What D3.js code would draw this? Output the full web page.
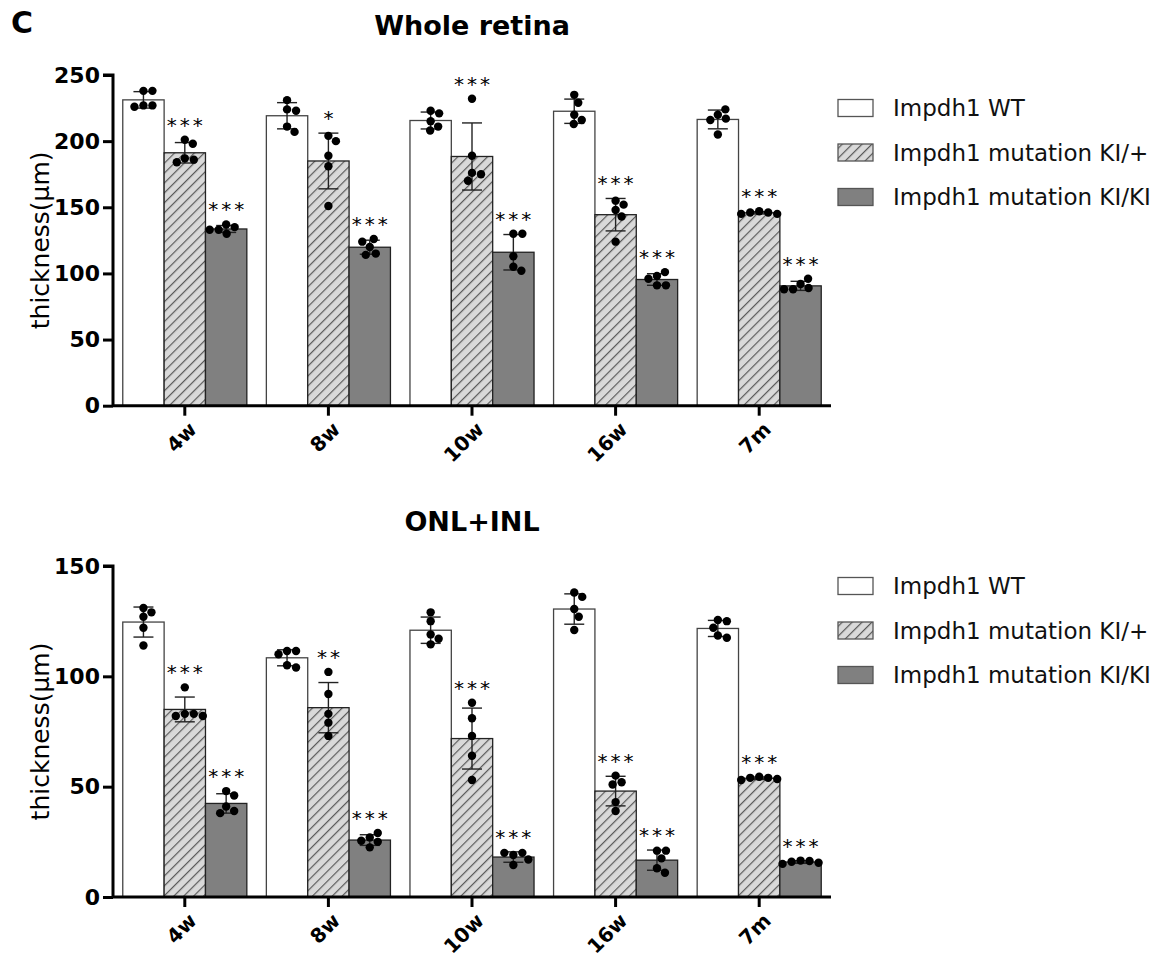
<!DOCTYPE html>
<html>
<head>
<meta charset="utf-8">
<script src="https://cdn.jsdelivr.net/npm/d3@7"></script>
<style>
  body { margin: 0; background: #fff; }
  text { font-family: "DejaVu Sans", sans-serif; }
</style>
</head>
<body>
<svg width="1171" height="961"></svg>
<script>
// categories and series
var groups = ["4w", "8w", "10w", "16w", "7m"];
var seriesNames = ["Impdh1 WT", "Impdh1 mutation KI/+", "Impdh1 mutation KI/KI"];

// Whole retina, individual points (5 per bar)
var retinaWT  = [[227, 238, 227, 238, 226], [231, 224, 223, 211, 207], [215, 223, 221, 211, 208], [235, 229, 220, 216, 213], [220, 224, 217, 216, 205]];
var retinaHet = [[187, 201, 186, 198, 184], [204, 200, 189, 181, 151], [232, 189, 176, 175, 170], [155, 152, 148, 143, 124], [147, 146, 146, 145, 145]];
var retinaHom = [[137, 135, 133, 133, 130], [120, 126, 124, 115, 114], [130, 130, 113, 105, 102], [98, 101, 96, 91, 91], [92, 96, 89, 88, 88]];
var retinaSig = [["", "***", "***"], ["", "*", "***"], ["", "***", "***"], ["", "***", "***"], ["", "***", "***"]];
var retinaTicks = [0, 50, 100, 150, 200, 250];

// ONL+INL
var onlWT  = [[131, 129, 127, 122, 114], [111.5, 111.5, 110, 105, 104], [129, 125, 119, 117, 114.5], [138, 136, 130.5, 127, 121], [125.5, 125, 122, 118.5, 117.5]];
var onlHet = [[95, 83, 83, 82, 82], [102, 92, 83, 79, 73], [88, 81, 73, 64, 53], [55, 52, 51, 43, 39], [54.5, 54, 54, 53.5, 53]];
var onlHom = [[48, 46, 41, 39, 38], [27, 29, 25.5, 25, 22.5], [19, 20, 20, 17, 14.5], [21, 21, 17.5, 13, 11], [16.5, 16.3, 16, 15.5, 15]];
var onlSig = [["", "***", "***"], ["", "**", "***"], ["", "***", "***"], ["", "***", "***"], ["", "***", "***"]];
var onlTicks = [0, 50, 100, 150];

var svg = d3.select("svg");

// hatch pattern for KI/+
var defs = svg.append("defs");
var pat = defs.append("pattern")
  .attr("id", "hatch")
  .attr("patternUnits", "userSpaceOnUse")
  .attr("width", 7).attr("height", 7)
  .attr("patternTransform", "rotate(45)");
pat.append("rect").attr("width", 7).attr("height", 7).attr("fill", "#d9d9d9");
pat.append("line").attr("x1", 0).attr("y1", 0).attr("x2", 0).attr("y2", 7)
  .attr("stroke", "#5a5a5a").attr("stroke-width", 2.4);

var fills = ["#ffffff", "url(#hatch)", "#808080"];
var strokes = ["#444", "#222", "#222"];
var dotR = 4.2;

var xScale = d3.scaleBand().domain(groups).range([113, 831]).paddingInner(0.136).paddingOuter(0.068);
var x1 = d3.scaleBand().domain([0, 1, 2]).range([0, xScale.bandwidth()]);

// panel letter
svg.append("text").attr("x", 11).attr("y", 33)
  .style("font-size", "30px").style("font-weight", "bold").text("C");

// spread dots sideways only when they would overlap
function swarm(vals, y, r) {
  var placed = [];
  return vals.map(function (v) {
    var py = y(v), off = 0;
    for (var dx = 0; dx < 40; dx += 0.5) {
      var cands = dx === 0 ? [0] : [dx, -dx];
      var ok = null;
      cands.forEach(function (c) {
        if (ok !== null) return;
        var hit = placed.some(function (p) {
          return Math.hypot(p[0] - c, p[1] - py) < 2 * r + 0.4;
        });
        if (!hit) ok = c;
      });
      if (ok !== null) { off = ok; break; }
    }
    placed.push([off, py]);
    return [off, v];
  });
}

function drawPanel(cfg) {
  var y = d3.scaleLinear().domain([0, cfg.max]).range([cfg.bottom, cfg.top]);
  var g = svg.append("g");

  // title
  g.append("text").attr("x", 472).attr("y", cfg.titleY)
    .attr("text-anchor", "middle")
    .style("font-size", "27px").style("font-weight", "bold").text(cfg.title);

  // y label
  g.append("text")
    .attr("text-anchor", "middle")
    .attr("transform", "translate(49," + (cfg.top + cfg.bottom) / 2 + ")rotate(-90)")
    .style("font-size", "25px")
    .text("thickness(\u03bcm)");

  var series = cfg.series;
  groups.forEach(function (grp, gi) {
    series.forEach(function (s, si) {
      var pts = s[gi];
      var m = d3.mean(pts), sd = d3.deviation(pts);
      var bx = xScale(grp) + x1(si), bw = x1.bandwidth();
      var cx = bx + bw / 2;

      g.append("rect")
        .attr("x", bx).attr("y", y(m))
        .attr("width", bw).attr("height", y(0) - y(m))
        .attr("fill", fills[si]).attr("stroke", strokes[si]).attr("stroke-width", 1.3);

      // error bar (mean +/- SD)
      var eb = g.append("g").attr("stroke", "#222").attr("stroke-width", 1.4);
      eb.append("line").attr("x1", cx).attr("x2", cx).attr("y1", y(m - sd)).attr("y2", y(m + sd));
      eb.append("line").attr("x1", cx - 10).attr("x2", cx + 10).attr("y1", y(m + sd)).attr("y2", y(m + sd));
      eb.append("line").attr("x1", cx - 10).attr("x2", cx + 10).attr("y1", y(m - sd)).attr("y2", y(m - sd));

      // dots
      g.append("g").selectAll("circle")
        .data(swarm(pts, y, dotR))
        .enter().append("circle")
        .attr("cx", function (d) { return cx + d[0]; })
        .attr("cy", function (d) { return y(d[1]); })
        .attr("r", dotR)
        .attr("fill", "#000");

      // significance
      var lab = cfg.sig[gi][si];
      if (lab) {
        var top = Math.max(d3.max(pts), m + sd);
        g.append("text")
          .attr("x", cx + 1.5).attr("y", y(top) - 8)
          .attr("text-anchor", "middle")
          .style("font-size", "20px").style("letter-spacing", "3px")
          .text(lab);
      }
    });
  });

  // axes
  var yAxis = g.append("g")
    .attr("transform", "translate(113,0)")
    .call(d3.axisLeft(y).tickValues(cfg.ticks).tickSize(10).tickPadding(3));
  var xAxis = g.append("g")
    .attr("transform", "translate(0," + cfg.bottom + ")")
    .call(d3.axisBottom(xScale).tickSize(10).tickSizeOuter(0));
  [yAxis, xAxis].forEach(function (a) {
    a.select(".domain").attr("stroke", "#000").attr("stroke-width", 3);
    a.selectAll(".tick line").attr("stroke", "#000").attr("stroke-width", 3);
    a.selectAll("text").attr("fill", "#000")
      .style("font-family", "DejaVu Sans").style("font-weight", "bold").style("font-size", "22px");
  });
  yAxis.select(".domain").attr("d", "M-10," + cfg.top + "H0V" + cfg.bottom);
  xAxis.select(".domain").attr("d", "M113,0H831");
  xAxis.selectAll(".tick text")
    .style("font-size", "20px")
    .attr("text-anchor", "end")
    .attr("y", 0).attr("dy", "0")
    .attr("transform", "translate(13,25)rotate(-45)");

  // legend
  var lg = g.append("g").attr("transform", "translate(838," + cfg.legendY + ")");
  seriesNames.forEach(function (name, i) {
    lg.append("rect").attr("x", 0).attr("y", i * 44.5 - 8.5)
      .attr("width", 35).attr("height", 17)
      .attr("fill", fills[i]).attr("stroke", "#555").attr("stroke-width", 1.3);
    lg.append("text").attr("x", 55).attr("y", i * 44.5 + 8)
      .style("font-size", "23px").attr("fill", "#111").text(name);
  });
}

drawPanel({
  title: "Whole retina", titleY: 35, top: 75, bottom: 405.7, max: 250,
  ticks: retinaTicks, series: [retinaWT, retinaHet, retinaHom], sig: retinaSig, legendY: 108
});
drawPanel({
  title: "ONL+INL", titleY: 531, top: 566, bottom: 897, max: 150,
  ticks: onlTicks, series: [onlWT, onlHet, onlHom], sig: onlSig, legendY: 586
});
</script>
</body>
</html>
